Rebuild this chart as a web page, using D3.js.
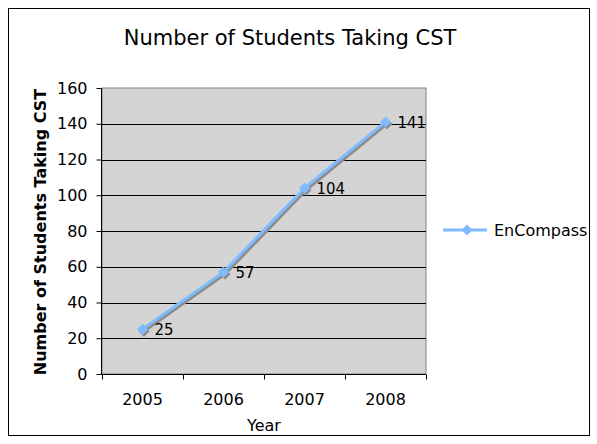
<!DOCTYPE html>
<html>
<head>
<meta charset="utf-8">
<script src="https://cdn.jsdelivr.net/npm/d3@7"></script>
<style>
  body { margin: 0; background: #fff; }
  svg { display: block; font-family: "DejaVu Sans", Verdana, sans-serif; }
</style>
</head>
<body>
<svg id="chart" width="597" height="444"></svg>
<script>
const years = ['2005', '2006', '2007', '2008'];
const students = [25, 57, 104, 141];
const yTicks = [0, 20, 40, 60, 80, 100, 120, 140, 160];
const seriesName = 'EnCompass';

const svg = d3.select('#chart');
const m = { left: 102, right: 426, top: 88, bottom: 374 };
const FONT = '"DejaVu Sans", Verdana, sans-serif';

// outer frame
svg.append('rect')
  .attr('x', 8.5).attr('y', 8.5).attr('width', 581).attr('height', 427)
  .attr('fill', '#fff').attr('stroke', '#000').attr('stroke-width', 1);

svg.append('text')
  .attr('x', 290).attr('y', 45)
  .attr('text-anchor', 'middle')
  .attr('font-size', '21px')
  .attr('fill', '#000')
  .text('Number of Students Taking CST');

const x = d3.scaleBand().domain(years).range([m.left, m.right]);
const y = d3.scaleLinear().domain([0, 160]).range([m.bottom, m.top]);

// plot background
svg.append('rect')
  .attr('x', m.left).attr('y', m.top)
  .attr('width', m.right - m.left).attr('height', m.bottom - m.top)
  .attr('fill', '#d4d4d4').attr('stroke', '#808080').attr('stroke-width', 1);

// gridlines
svg.selectAll('.grid')
  .data(yTicks.filter(d => d > 0 && d < 160))
  .enter().append('line')
  .attr('x1', m.left).attr('x2', m.right)
  .attr('y1', d => Math.round(y(d)) + 0.5).attr('y2', d => Math.round(y(d)) + 0.5)
  .attr('stroke', '#000').attr('stroke-width', 1);

// y axis
const yAxis = svg.append('g')
  .attr('transform', `translate(${m.left - 0.5},0)`)
  .call(d3.axisLeft(y).tickValues(yTicks).tickSize(5).tickPadding(9));
yAxis.select('.domain').attr('stroke', '#000').attr('d', `M0,${m.top}V${m.bottom}`);
yAxis.selectAll('.tick line').attr('stroke', '#000');
yAxis.selectAll('text').attr('font-size', '16px').attr('fill', '#000')
  .attr('font-family', FONT);

// x axis: ticks at band edges
const xAxisG = svg.append('g').attr('transform', `translate(0,${m.bottom + 0.5})`);
xAxisG.append('line')
  .attr('x1', m.left - 5).attr('x2', m.right)
  .attr('stroke', '#000');
const edges = years.map(d => x(d)).concat([m.right]);
xAxisG.selectAll('.xt')
  .data(edges)
  .enter().append('line')
  .attr('x1', d => Math.round(d) + 0.5).attr('x2', d => Math.round(d) + 0.5)
  .attr('y1', 0).attr('y2', 5)
  .attr('stroke', '#000');
xAxisG.selectAll('.xl')
  .data(years)
  .enter().append('text')
  .attr('x', d => x(d) + x.bandwidth() / 2)
  .attr('y', 30)
  .attr('text-anchor', 'middle')
  .attr('font-size', '16px')
  .attr('fill', '#000')
  .text(d => d);

svg.append('text')
  .attr('x', 264).attr('y', 431)
  .attr('text-anchor', 'middle')
  .attr('font-size', '16px')
  .text('Year');

svg.append('text')
  .attr('transform', `translate(46,232) rotate(-90)`)
  .attr('text-anchor', 'middle')
  .attr('font-size', '16px')
  .attr('font-weight', 'bold')
  .text('Number of Students Taking CST');

// series
const data = years.map((d, i) => ({ year: d, v: students[i] }));
const cx = d => x(d.year) + x.bandwidth() / 2;
const line = d3.line().x(cx).y(d => y(d.v));
const marker = d3.symbol().type(d3.symbolSquare).size(62);
const BLUE = '#80bbff';
const SHADOW = '#8c8c8c';

// shadow
svg.append('path').datum(data)
  .attr('d', line)
  .attr('transform', 'translate(1.5,2)')
  .attr('fill', 'none').attr('stroke', SHADOW).attr('stroke-width', 3);
svg.selectAll('.shadowpt').data(data).enter().append('path')
  .attr('d', marker)
  .attr('transform', d => `translate(${cx(d) + 1.5},${y(d.v) + 2}) rotate(45)`)
  .attr('fill', SHADOW);

svg.append('path').datum(data)
  .attr('d', line)
  .attr('fill', 'none').attr('stroke', BLUE).attr('stroke-width', 3);
svg.selectAll('.pt').data(data).enter().append('path')
  .attr('d', marker)
  .attr('transform', d => `translate(${cx(d)},${y(d.v)}) rotate(45)`)
  .attr('fill', BLUE);

svg.selectAll('.lbl').data(data).enter().append('text')
  .attr('x', d => cx(d) + 12)
  .attr('y', d => y(d.v) + 6)
  .attr('font-size', '15px')
  .attr('fill', '#000')
  .text(d => d.v);

// legend
const lg = svg.append('g').attr('transform', 'translate(443,230)');
lg.append('line').attr('x1', 0).attr('x2', 44).attr('y1', 0).attr('y2', 0)
  .attr('stroke', BLUE).attr('stroke-width', 3);
lg.append('path').attr('d', marker).attr('transform', 'translate(24,0) rotate(45)').attr('fill', BLUE);
lg.append('text').attr('x', 51).attr('y', 6)
  .attr('font-size', '16px').text(seriesName);
</script>
</body>
</html>
